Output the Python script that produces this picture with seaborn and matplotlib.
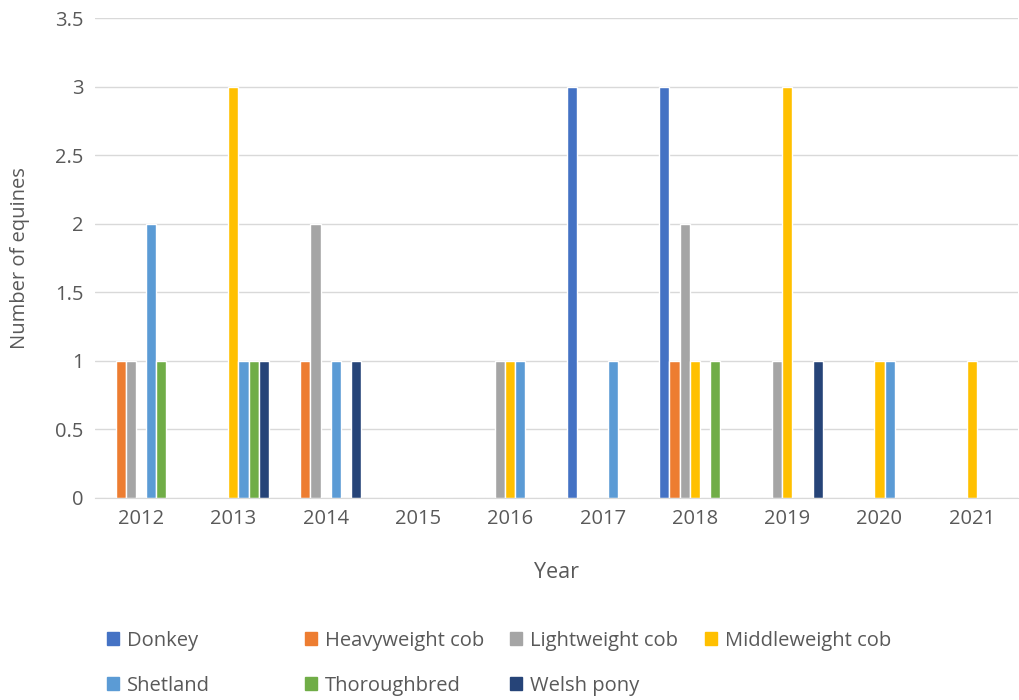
import pandas as pd
import matplotlib
matplotlib.use('Agg')
import matplotlib.pyplot as plt
import seaborn as sns
from matplotlib.ticker import FuncFormatter

# Данные
years = ['2012', '2013', '2014', '2015', '2016', '2017', '2018', '2019', '2020', '2021']
breeds = ['Donkey', 'Heavyweight cob', 'Lightweight cob', 'Middleweight cob',
          'Shetland', 'Thoroughbred', 'Welsh pony']
donkey = [0, 0, 0, 0, 0, 3, 3, 0, 0, 0]
heavyweight = [1, 0, 1, 0, 0, 0, 1, 0, 0, 0]
lightweight = [1, 0, 2, 0, 1, 0, 2, 1, 0, 0]
middleweight = [0, 3, 0, 0, 1, 0, 1, 3, 1, 1]
shetland = [2, 1, 1, 0, 1, 1, 0, 0, 1, 0]
thoroughbred = [1, 1, 0, 0, 0, 0, 1, 0, 0, 0]
welsh = [0, 1, 1, 0, 0, 0, 0, 1, 0, 0]
colors = ['#4472C4', '#ED7D31', '#A5A5A5', '#FFC000', '#5B9BD5', '#70AD47', '#264478']

series = [donkey, heavyweight, lightweight, middleweight, shetland, thoroughbred, welsh]
rows = []
for breed, vals in zip(breeds, series):
    for y, v in zip(years, vals):
        rows.append({'Year': y, 'Breed': breed, 'Count': v})
df = pd.DataFrame(rows)

sns.set_style('white')
plt.rcParams['font.family'] = ['Open Sans', 'DejaVu Sans']

fig = plt.figure(figsize=(10.2, 7), dpi=100)
ax = fig.add_axes([0.093, 0.289, 0.905, 0.685])

sns.barplot(data=df, x='Year', y='Count', hue='Breed', hue_order=breeds,
            palette=colors, width=0.77, saturation=1, ax=ax, legend=False)

ax.set_ylim(0, 3.5)
ax.set_xlim(-0.5, 9.5)
ax.set_yticks([0, 0.5, 1, 1.5, 2, 2.5, 3, 3.5])
ax.yaxis.set_major_formatter(FuncFormatter(lambda v, p: f'{v:g}'))
ax.grid(axis='y', color='#D9D9D9', linewidth=1)
ax.set_axisbelow(True)
for s in ['top', 'right', 'left']:
    ax.spines[s].set_visible(False)
ax.spines['bottom'].set_color('#D9D9D9')
ax.tick_params(length=0, labelsize=14.5, colors='#595959', pad=8)
ax.set_xlabel('Year', fontsize=15.5, color='#595959', labelpad=24)
ax.set_ylabel('Number of equines', fontsize=14.5, color='#595959', labelpad=18)

# легенда: 4 колонки одинаковой ширины, как в Excel
handles = [plt.Rectangle((0, 0), 1, 1, color=c) for c in colors]
col_x = [0.105, 0.299, 0.5, 0.691]
for i, x in enumerate(col_x):
    idx = [j for j in (i, i + 4) if j < len(breeds)]
    leg = fig.legend([handles[j] for j in idx], [breeds[j] for j in idx],
                     loc='upper left', bbox_to_anchor=(x, 0.099), frameon=False,
                     fontsize=14.5, labelcolor='#595959', handlelength=0.6,
                     handleheight=0.6, handletextpad=0.4, labelspacing=1.25,
                     borderpad=0, borderaxespad=0)

fig.savefig('out.png', dpi=100)
